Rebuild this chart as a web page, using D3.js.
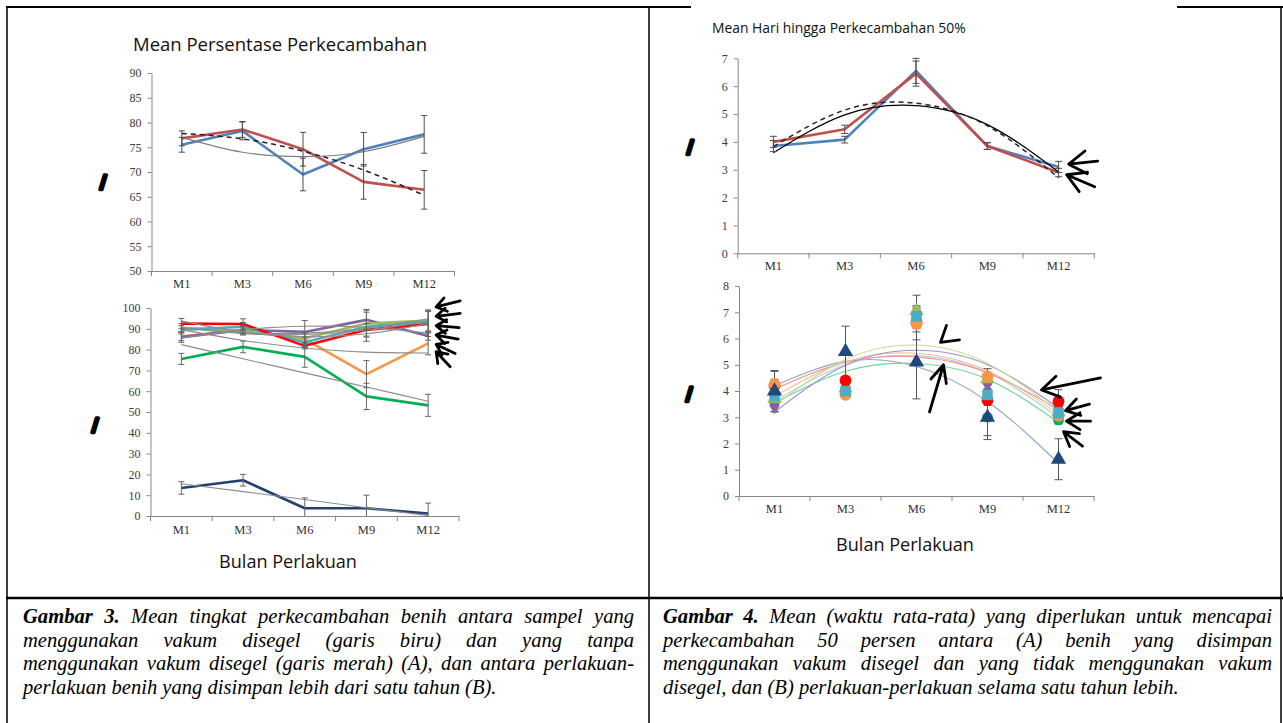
<!DOCTYPE html>
<html><head><meta charset="utf-8">
<script src="https://cdn.jsdelivr.net/npm/d3@7"></script>
<style>body{margin:0;background:#fff}svg{display:block}</style>
</head><body>
<svg id="c" width="1283" height="723"></svg>
<script>
// ---------------- DATA ----------------
const months = ["M1", "M3", "M6", "M9", "M12"];

// Gambar 3 (A): mean persentase perkecambahan
const g3aTicks = [50, 55, 60, 65, 70, 75, 80, 85, 90];
const g3aVakum = [75.5, 78.3, 69.5, 74.6, 77.6];
const g3aVakumErr = [1.5, 1.8, 3.3, 3.4, 3.8];
const g3aTanpa = [76.8, 78.6, 74.6, 68.0, 66.4];
const g3aTanpaErr = [1.5, 1.6, 3.4, 3.5, 3.9];
const g3aTrendVakum = [77.0, 74.0, 73.1, 74.1, 77.2];
const g3aTrendTanpa = [77.8, 76.7, 74.2, 70.4, 65.3];

// Gambar 3 (B)
const g3bTicks = [0, 10, 20, 30, 40, 50, 60, 70, 80, 90, 100];
const g3bRed = [92.5, 92.3, 81.8, 89.5, 92.3];
const g3bRedErr = [2.5, 2.5, 1.5, 3.0, 6.0];
const g3bBlue = [89.5, 91.0, 83.5, 91.0, 93.5];
const g3bBlueErr = [2.0, 2.0, 2.5, 7.0, 5.5];
const g3bOlive = [90.5, 89.0, 85.5, 92.5, 94.0];
const g3bOliveErr = [2.0, 2.0, 3.0, 6.5, 5.0];
const g3bPurple = [86.0, 89.5, 88.5, 94.3, 86.5];
const g3bPurpleErr = [2.5, 2.0, 5.5, 5.0, 2.0];
const g3bOrange = [86.3, 89.5, 85.0, 68.2, 83.0];
const g3bOrangeErr = [2.0, 2.0, 3.0, 6.5, 5.5];
const g3bGreen = [75.5, 81.3, 76.5, 57.5, 53.2];
const g3bGreenErr = [2.7, 2.8, 5.0, 6.3, 5.3];
const g3bNavy = [13.5, 17.2, 3.7, 3.7, 1.2];
const g3bNavyErr = [3.0, 2.8, 5.0, 6.3, 5.0];
const g3bTrendRed = [93.8, 88.3, 86.2, 87.6, 92.5];
const g3bTrendBlue = [90.5, 87.7, 87.3, 89.3, 93.7];
const g3bTrendOlive = [90.6, 88.1, 87.9, 90.2, 94.8];
const g3bTrendPurple = [85.5, 89.5, 91.2, 90.7, 87.9];
const g3bTrendOrange = [89.6, 84.4, 80.8, 78.8, 78.4];
const g3bTrendGreen = [82.4, 75.6, 68.8, 62.0, 55.2];
const g3bTrendNavy = [15.5, 11.7, 7.9, 4.0, 0.2];

// Gambar 4 (A): mean hari hingga perkecambahan 50%
const g4aTicks = [0, 1, 2, 3, 4, 5, 6, 7];
const g4aVakum = [3.85, 4.08, 6.55, 3.85, 3.10];
const g4aVakumErr = [0.20, 0.12, 0.45, 0.12, 0.20];
const g4aTanpa = [4.00, 4.45, 6.45, 3.85, 2.90];
const g4aTanpaErr = [0.20, 0.15, 0.45, 0.12, 0.15];
const g4aTrendVakum = [3.61, 4.97, 5.30, 4.62, 2.92];
const g4aTrendTanpa = [3.83, 5.14, 5.39, 4.58, 2.71];

// Gambar 4 (B)
const g4bTicks = [0, 1, 2, 3, 4, 5, 6, 7, 8];
const g4bNavy = [4.00, 5.50, 5.10, 3.00, 1.40];
const g4bNavyErr = [0.78, 0.97, 1.40, 0.85, 0.78];
const g4bRed = [4.20, 4.40, 6.60, 3.65, 3.60];
const g4bRedErr = [0.55, 0.10, 0.65, 0.20, 0.45];
const g4bBlue = [3.80, 4.00, 6.85, 3.85, 3.15];
const g4bBlueErr = [0.20, 0.10, 0.30, 0.20, 0.20];
const g4bOrange = [4.25, 3.85, 6.55, 4.55, 3.05];
const g4bOrangeErr = [0.20, 0.10, 0.30, 0.30, 0.30];
const g4bPurple = [3.45, 4.00, 6.90, 4.30, 3.45];
const g4bPurpleErr = [0.25, 0.10, 0.30, 0.20, 0.30];
const g4bOlive = [3.70, 4.10, 7.05, 4.45, 3.20];
const g4bOliveErr = [0.20, 0.10, 0.60, 0.20, 0.20];
const g4bGreen = [3.60, 3.90, 6.70, 3.00, 2.90];
const g4bGreenErr = [0.20, 0.10, 0.30, 0.70, 0.15];
const g4bTrendNavy = [4.20, 5.13, 4.93, 3.60, 1.25];
const g4bTrendRed = [4.07, 5.09, 5.30, 4.70, 3.29];
const g4bTrendBlue = [3.60, 5.00, 5.35, 4.70, 3.00];
const g4bTrendOrange = [3.80, 5.11, 5.44, 4.77, 3.12];
const g4bTrendPurple = [3.20, 4.98, 5.55, 5.00, 3.35];
const g4bTrendOlive = [3.45, 5.20, 5.75, 5.05, 3.20];
const g4bTrendGreen = [3.55, 4.75, 5.05, 4.45, 2.80];

// Texts
const title3 = "Mean Persentase Perkecambahan";
const title4 = "Mean Hari hingga Perkecambahan 50%";
const xTitle = "Bulan Perlakuan";
const caption3 = [
  "Gambar 3. Mean tingkat perkecambahan benih antara sampel yang",
  "menggunakan vakum disegel (garis biru) dan yang tanpa",
  "menggunakan vakum disegel (garis merah) (A), dan antara perlakuan-",
  "perlakuan benih yang disimpan lebih dari satu tahun (B)."
];
const caption4 = [
  "Gambar 4.  Mean (waktu rata-rata) yang diperlukan untuk mencapai",
  "perkecambahan 50 persen antara (A) benih yang disimpan",
  "menggunakan vakum disegel dan yang tidak menggunakan vakum",
  "disegel, dan (B) perlakuan-perlakuan selama satu tahun lebih."
];

// ---------------- DRAWING ----------------
const svg = d3.select("#c");
const serif = "'Liberation Serif','Times New Roman',serif";
const sans = "'Open Sans','Noto Sans',sans-serif";
const axisCol = "#868686";

function bandX(x0, x1) { return d3.scaleBand().domain(months).range([x0, x1]); }
const cx = (x, m) => x(m) + x.bandwidth() / 2;

function axes(x, y, ticks, labelGap) {
  const g = svg.append("g");
  const gy = g.append("g").attr("transform", `translate(${x.range()[0]},0)`)
    .call(d3.axisLeft(y).tickValues(ticks).tickFormat(d3.format("d")).tickSize(4).tickSizeOuter(0).tickPadding(6));
  gy.select(".domain").attr("stroke", axisCol);
  gy.selectAll(".tick line").attr("stroke", axisCol);
  gy.selectAll(".tick text").attr("font-family", serif).attr("font-size", 12).attr("fill", "#404040");
  const y0 = y.range()[0];
  const gx = g.append("g").attr("transform", `translate(0,${y0})`)
    .call(d3.axisBottom(x).tickSize(0).tickPadding(labelGap));
  gx.select(".domain").attr("stroke", axisCol);
  gx.selectAll(".tick text").attr("font-family", serif).attr("font-size", 12.5).attr("fill", "#333");
  const bounds = months.map(m => x(m)).concat([x.range()[1]]);
  gx.selectAll("line.bt").data(bounds).join("line").attr("class", "bt")
    .attr("x1", d => d).attr("x2", d => d).attr("y1", 0).attr("y2", 5).attr("stroke", axisCol);
}

function series(x, y, vals, color, w, dash, curve) {
  const line = d3.line().x((d, i) => cx(x, months[i])).y(d => y(d));
  if (curve) line.curve(d3.curveNatural);
  svg.append("path").datum(vals).attr("d", line).attr("fill", "none")
    .attr("stroke", color).attr("stroke-width", w)
    .attr("stroke-dasharray", dash || null).attr("stroke-linejoin", "round");
}

function errBars(x, y, vals, errs, capW, color) {
  const g = svg.append("g").attr("stroke", color || "#4d4d4d").attr("stroke-width", 1);
  vals.forEach((v, i) => {
    const X = cx(x, months[i]);
    const lo = Math.max(v - errs[i], y.domain()[0]), hi = v + errs[i];
    g.append("line").attr("x1", X).attr("x2", X).attr("y1", y(lo)).attr("y2", y(hi));
    g.append("line").attr("x1", X - capW / 2).attr("x2", X + capW / 2).attr("y1", y(hi)).attr("y2", y(hi));
    if (v - errs[i] >= y.domain()[0])
      g.append("line").attr("x1", X - capW / 2).attr("x2", X + capW / 2).attr("y1", y(lo)).attr("y2", y(lo));
  });
}

function markers(x, y, vals, type, size, color) {
  svg.append("g").selectAll("path").data(vals).join("path")
    .attr("transform", (d, i) => `translate(${cx(x, months[i])},${y(d)})`)
    .attr("d", d3.symbol().type(type).size(size)).attr("fill", color);
}

function arrow(tip, tail, arm, spread) {
  const a = Math.atan2(tail[1] - tip[1], tail[0] - tip[0]);
  const s = (spread || 30) * Math.PI / 180;
  const p1 = [tip[0] + arm * Math.cos(a + s), tip[1] + arm * Math.sin(a + s)];
  const p2 = [tip[0] + arm * Math.cos(a - s), tip[1] + arm * Math.sin(a - s)];
  const d = `M${p1}L${tip}L${p2}M${tip}L${tail}`;
  svg.append("path").attr("d", d).attr("fill", "none").attr("stroke", "#000")
    .attr("stroke-width", 2.8).attr("stroke-linecap", "round").attr("stroke-linejoin", "round");
}
function chevron(p1, tip, p2) {
  svg.append("path").attr("d", `M${p1}L${tip}L${p2}`).attr("fill", "none").attr("stroke", "#000")
    .attr("stroke-width", 2.8).attr("stroke-linecap", "round").attr("stroke-linejoin", "round");
}

function fitText(sel, target) {
  const w = sel.node().getComputedTextLength();
  const fs = parseFloat(sel.attr("font-size"));
  sel.attr("font-size", fs * target / w);
}

// ---- Table frame ----
const frame = svg.append("g").attr("stroke", "#000");
frame.append("line").attr("x1", 6).attr("x2", 691).attr("y1", 7).attr("y2", 7).attr("stroke-width", 2);
frame.append("line").attr("x1", 1177).attr("x2", 1283).attr("y1", 7).attr("y2", 7).attr("stroke-width", 2);
frame.append("line").attr("x1", 7).attr("x2", 7).attr("y1", 6).attr("y2", 723).attr("stroke-width", 1.5);
frame.append("line").attr("x1", 649).attr("x2", 649).attr("y1", 6).attr("y2", 723).attr("stroke-width", 1.5);
frame.append("line").attr("x1", 1281).attr("x2", 1281).attr("y1", 6).attr("y2", 723).attr("stroke-width", 1.5);
frame.append("line").attr("x1", 6).attr("x2", 1283).attr("y1", 598).attr("y2", 598).attr("stroke-width", 2.5);

// ---- Gambar 3A ----
const x3a = bandX(151.5, 454.5);
const y3a = d3.scaleLinear().domain([50, 90]).range([271, 73]);
axes(x3a, y3a, g3aTicks, 8);
series(x3a, y3a, g3aVakum, "#4f81bd", 2.6);
series(x3a, y3a, g3aTanpa, "#c0504d", 2.6);
series(x3a, y3a, g3aTrendVakum, "#7f7f7f", 1.1, null, true);
series(x3a, y3a, g3aTrendTanpa, "#222", 1.5, "5,4", true);
errBars(x3a, y3a, g3aVakum, g3aVakumErr, 6);
errBars(x3a, y3a, g3aTanpa, g3aTanpaErr, 6);

// ---- Gambar 3B ----
const x3b = bandX(150.5, 459);
const y3b = d3.scaleLinear().domain([0, 100]).range([516, 308]);
axes(x3b, y3b, g3bTicks, 9);
series(x3b, y3b, g3bNavy, "#24406e", 2.6);
series(x3b, y3b, g3bGreen, "#00b050", 2.6);
series(x3b, y3b, g3bOrange, "#f79646", 2.6);
series(x3b, y3b, g3bPurple, "#8064a2", 2.6);
series(x3b, y3b, g3bOlive, "#9bbb59", 2.6);
series(x3b, y3b, g3bBlue, "#4bacc6", 2.6);
series(x3b, y3b, g3bRed, "#ff0000", 2.6);
[g3bTrendRed, g3bTrendBlue, g3bTrendOlive, g3bTrendPurple, g3bTrendOrange, g3bTrendGreen, g3bTrendNavy]
  .forEach(t => series(x3b, y3b, t, "#8c8c8c", 1.1, null, true));
[[g3bRed, g3bRedErr], [g3bBlue, g3bBlueErr], [g3bOlive, g3bOliveErr], [g3bPurple, g3bPurpleErr],
 [g3bOrange, g3bOrangeErr], [g3bGreen, g3bGreenErr], [g3bNavy, g3bNavyErr]]
  .forEach(([v, e]) => errBars(x3b, y3b, v, e, 6, "#666"));

// ---- Gambar 4A ----
const x4a = bandX(737.7, 1094.3);
const y4a = d3.scaleLinear().domain([0, 7]).range([253.3, 58.3]);
axes(x4a, y4a, g4aTicks, 8);
series(x4a, y4a, g4aVakum, "#4f81bd", 2.6);
series(x4a, y4a, g4aTanpa, "#c0504d", 2.6);
series(x4a, y4a, g4aTrendVakum, "#000", 1.3, null, true);
series(x4a, y4a, g4aTrendTanpa, "#222", 1.5, "5,4", true);
errBars(x4a, y4a, g4aVakum, g4aVakumErr, 7);
errBars(x4a, y4a, g4aTanpa, g4aTanpaErr, 7);

// ---- Gambar 4B ----
const x4b = bandX(739, 1094);
const y4b = d3.scaleLinear().domain([0, 8]).range([496, 286]);
axes(x4b, y4b, g4bTicks, 8);
series(x4b, y4b, g4bTrendNavy, "#8ea7c8", 1.1, null, true);
series(x4b, y4b, g4bTrendGreen, "#6fd39b", 1.1, null, true);
series(x4b, y4b, g4bTrendBlue, "#9fd3e3", 1.1, null, true);
series(x4b, y4b, g4bTrendRed, "#ff8c8c", 1.1, null, true);
series(x4b, y4b, g4bTrendOrange, "#f9bf8f", 1.1, null, true);
series(x4b, y4b, g4bTrendPurple, "#a48fc4", 1.1, null, true);
series(x4b, y4b, g4bTrendOlive, "#c4dc9c", 1.1, null, true);
[[g4bNavy, g4bNavyErr], [g4bRed, g4bRedErr], [g4bBlue, g4bBlueErr], [g4bOrange, g4bOrangeErr],
 [g4bPurple, g4bPurpleErr], [g4bOlive, g4bOliveErr], [g4bGreen, g4bGreenErr]]
  .forEach(([v, e]) => errBars(x4b, y4b, v, e, 8, "#555"));
markers(x4b, y4b, g4bGreen, d3.symbolCircle, 90, "#00b050");
markers(x4b, y4b, g4bPurple, d3.symbolDiamond, 90, "#8064a2");
markers(x4b, y4b, g4bOlive, d3.symbolTriangle, 90, "#9bbb59");
markers(x4b, y4b, g4bRed, d3.symbolCircle, 110, "#ff0000");
markers(x4b, y4b, g4bOrange, d3.symbolCircle, 110, "#f79646");
markers(x4b, y4b, g4bBlue, d3.symbolSquare, 110, "#4bacc6");
markers(x4b, y4b, g4bNavy, d3.symbolTriangle, 100, "#1f497d");

// ---- Titles ----
const t3 = svg.append("text").text(title3).attr("x", 280).attr("y", 51).attr("text-anchor", "middle")
  .attr("font-family", sans).attr("font-size", 16).attr("fill", "#111");
fitText(t3, 294);
const t4 = svg.append("text").text(title4).attr("x", 712).attr("y", 33)
  .attr("font-family", sans).attr("font-size", 12).attr("fill", "#111");
fitText(t4, 254);
[[288, 568], [905, 551]].forEach(([x, y]) => {
  const t = svg.append("text").text(xTitle).attr("x", x).attr("y", y).attr("text-anchor", "middle")
    .attr("font-family", sans).attr("font-size", 16).attr("fill", "#111");
  fitText(t, 138);
});

// ---- Panel marks ----
[[103, 188], [95, 431], [690, 153], [689, 400]].forEach(([x, y]) => {
  svg.append("text").text("/").attr("x", x).attr("y", y).attr("text-anchor", "middle")
    .attr("font-family", "'DejaVu Sans',sans-serif").attr("font-weight", "bold").attr("font-size", 17)
    .attr("fill", "#000").attr("stroke", "#000").attr("stroke-width", 3.6).attr("stroke-linejoin", "round");
});

// ---- Annotation arrows ----
{
  const tx = cx(x3b, "M12") + 8;
  [[100.5, 24, -6], [96, 24, -3], [91.5, 23, 2], [87, 22, 4], [82.5, 19, 9], [79, 14, 15]]
    .forEach(([v, dx, dy]) => arrow([tx, y3b(v)], [tx + dx, y3b(v) + dy], 12, 35));
  const ax = cx(x4a, "M12") + 10;
  arrow([ax, y4a(3.2)], [ax + 29, y4a(3.2) - 3], 21, 33);
  arrow([ax - 2, y4a(2.82)], [ax + 26, y4a(2.82) + 12], 21, 30);
  const m6 = cx(x4b, "M6"), m12 = cx(x4b, "M12");
  chevron([m6 + 30, y4b(6.5)], [m6 + 24, y4b(5.85)], [m6 + 43, y4b(5.95)]);
  arrow([m6 + 27, y4b(5.0)], [m6 + 13, y4b(3.2)], 19, 25);
  arrow([m12 - 17, y4b(4.04)], [m12 + 42, y4b(4.5)], 20, 32);
  arrow([m12 + 7, y4b(3.25)], [m12 + 31, y4b(3.5)], 16, 32);
  arrow([m12 + 8, y4b(2.85)], [m12 + 32, y4b(2.85)], 16, 32);
  arrow([m12 + 5, y4b(2.45)], [m12 + 24, y4b(1.9)], 16, 30);
}

// ---- Captions (justified) ----
const tmp = svg.append("text").attr("font-family", serif).attr("font-style", "italic");
function wlen(w, bold, fs) {
  tmp.text(w).attr("font-weight", bold ? "bold" : "normal").attr("font-size", fs);
  return tmp.node().getComputedTextLength();
}
const capFs = 20 * (491 / wlen(caption3[3], false, 20) + 497 / wlen(caption4[3], false, 20)) / 2;
function caption(lines, x0, x1, y0) {
  lines.forEach((ln, li) => {
    const words = ln.split(/\s+/);
    const bold = words.map((w, i) => li === 0 && i < 2);
    const ws = words.map((w, i) => wlen(w, bold[i], capFs));
    const sp = wlen("a a", false, capFs) - 2 * wlen("a", false, capFs);
    const last = li === lines.length - 1;
    const gap = last ? sp : (x1 - x0 - d3.sum(ws)) / (words.length - 1);
    let x = x0;
    const t = svg.append("text").attr("font-family", serif).attr("font-style", "italic")
      .attr("font-size", capFs).attr("fill", "#000");
    words.forEach((w, i) => {
      t.append("tspan").attr("x", x).attr("y", y0 + li * 23.6).attr("font-weight", bold[i] ? "bold" : "normal").text(w);
      x += ws[i] + gap;
    });
  });
}
caption(caption3, 23, 634, 623);
caption(caption4, 663, 1272, 623);
tmp.remove();
</script>
</body></html>
